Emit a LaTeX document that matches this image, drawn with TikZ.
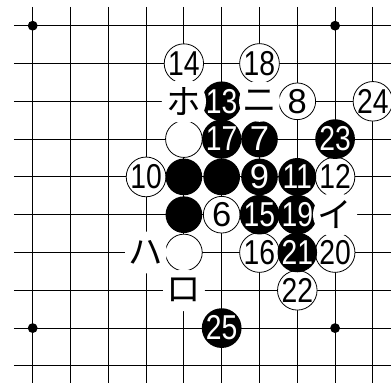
\documentclass[tikz,border=0pt]{standalone}
\usepackage{fontspec}
\newfontfamily\numfont{Liberation Sans}
\newfontfamily\kanafont{Noto Sans CJK JP}
\usetikzlibrary{positioning}
\newcommand{\narrow}[1]{\scalebox{0.82}[1]{#1}}
\newcommand{\bigkana}[1]{\scalebox{1.08}{#1}}

\begin{document}
\begin{tikzpicture}[
  x=1cm, y=-1cm,
  gridline/.style={line width=0.8pt},
  stone/.style={circle, minimum size=0.97cm, inner sep=0pt, font={\numfont\fontsize{26pt}{26pt}\selectfont}},
  wstone/.style={stone, draw, line width=0.6pt, fill=white},
  bstone/.style={stone, fill=black, text=white},
  kana/.style={circle, minimum size=0.97cm, inner sep=0pt, fill=white, font={\kanafont\fontsize{24pt}{24pt}\selectfont}},
  hoshi/.style={circle, fill=black, inner sep=0pt, minimum size=0.26cm}
]
\useasboundingbox (-0.865,-0.68) rectangle (9.479,9.452);
\clip (-0.865,-0.68) rectangle (9.479,9.452);

% board
\foreach \j in {0,...,9}
  \draw[gridline] (-0.5,\j) -- (9.479,\j);
\foreach \i in {0,...,9}
  \draw[gridline] (\i,-0.5) -- (\i,9.452);
\foreach \p/\q in {0/0,8/0,0/8,8/8}
  \node[hoshi] (h\p\q) at (\p,\q) {};

% white stones
\node[wstone] (w14) at (4,1) {\narrow{14}};
\node[wstone] (w18) at (6,1) {\narrow{18}};
\node[wstone] (w8)  at (7,2) {8};
\node[wstone] (w24) at (9,2) {\narrow{24}};
\node[wstone] (wa)  at (4,3) {};
\node[wstone] (w10) at (3,4) {\narrow{10}};
\node[wstone] (w12) at (8,4) {\narrow{12}};
\node[wstone] (w6)  at (5,5) {6};
\node[wstone] (wb)  at (4,6) {};
\node[wstone] (w16) at (6,6) {\narrow{16}};
\node[wstone] (w20) at (8,6) {\narrow{20}};
\node[wstone] (w22) at (7,7) {\narrow{22}};

% black stones
\node[bstone] (b13) at (5,2) {\narrow{13}};
\node[bstone] (b17) at (5,3) {\narrow{17}};
\node[bstone] (b7)  at (6,3) {7};
\node[bstone] (b23) at (8,3) {\narrow{23}};
\node[bstone] (ba)  at (4,4) {};
\node[bstone] (bb)  at (5,4) {};
\node[bstone] (b9)  at (6,4) {9};
\node[bstone] (b11) at (7,4) {\narrow{11}};
\node[bstone] (bc)  at (4,5) {};
\node[bstone] (b15) at (6,5) {\narrow{15}};
\node[bstone] (b19) at (7,5) {\narrow{19}};
\node[bstone] (b21) at (7,6) {\narrow{21}};
\node[bstone] (b25) at (5,8) {\narrow{25}};

% marked points
\node[kana] (ho) at (4,2) {\bigkana{ホ}};
\node[kana] (ni) at (6,2) {\bigkana{ニ}};
\node[kana] (i)  at (8,5) {\bigkana{イ}};
\node[kana] (ha) at (3,6) {\bigkana{ハ}};
\node[kana] (ro) at (4,7) {\bigkana{ロ}};
\end{tikzpicture}
\end{document}
